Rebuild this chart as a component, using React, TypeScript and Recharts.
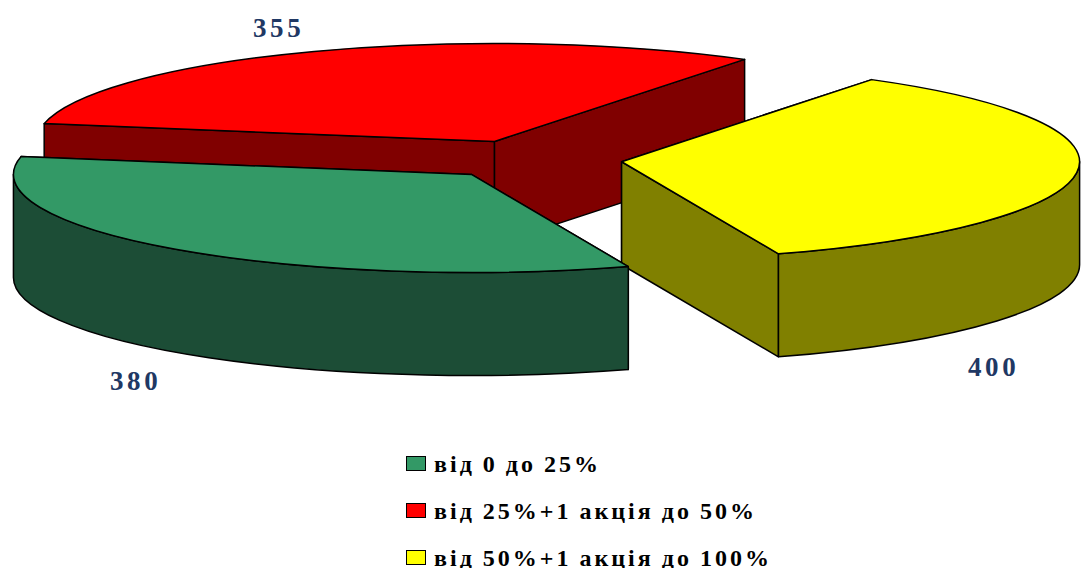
import * as React from "react";
import { Legend, Pie, PieChart } from "recharts";

// slices in paint order: green has to land on top of the red walls
const categories = ["від 25%+1 акція до 50%", "від 50%+1 акція до 100%", "від 0 до 25%"];
const values = [355, 400, 380];
const topColors = ["#ff0000", "#ffff00", "#339966"];
const wallColors = ["#800000", "#808000", "#1c4d36"];
const legendOrder = ["від 0 до 25%", "від 25%+1 акція до 50%", "від 50%+1 акція до 100%"];

const WIDTH = 1082;
const HEIGHT = 568;
const CX = 530.6;
const CY = 159.5;
const RADIUS = 458;
const SQUASH = 0.214; // ellipse ry / rx
const DEPTH = 103;
const EXPLODE = 0.2;
const TEXT_COLOR = "#1f3864";
const FONT = '"Liberation Serif", "Times New Roman", serif';

// where each value label sits, relative to the pie centre
const labelShift = [
  [-252, -123],
  [463, 216],
  [-395, 230],
];

const data = categories.map((name, i) => ({
  name,
  value: values[i],
  fill: topColors[i],
  wall: wallColors[i],
}));

const rad = (deg: number) => (deg * Math.PI) / 180;

function Slice(props: any) {
  const { cx, cy, outerRadius: r, startAngle, endAngle, midAngle, fill, wall } = props;
  // slide the whole slice out along its own middle direction
  const ox = cx + r * EXPLODE * Math.cos(rad(midAngle));
  const oy = cy - r * EXPLODE * SQUASH * Math.sin(rad(midAngle));
  const ry = r * SQUASH;
  const px = (a: number) => ox + r * Math.cos(rad(a));
  const py = (a: number) => oy - ry * Math.sin(rad(a));

  const top = `M${ox},${oy} L${px(startAngle)},${py(startAngle)} A${r},${ry} 0 ${
    startAngle - endAngle > 180 ? 1 : 0
  } 1 ${px(endAngle)},${py(endAngle)} Z`;

  const cut = (a: number) =>
    `M${ox},${oy} L${px(a)},${py(a)} L${px(a)},${py(a) + DEPTH} L${ox},${oy + DEPTH} Z`;

  // outer wall only shows on the front half of the ellipse
  const hi = Math.min(startAngle, 0);
  const lo = Math.max(endAngle, -180);
  const outer =
    hi > lo
      ? `M${px(hi)},${py(hi)} A${r},${ry} 0 0 1 ${px(lo)},${py(lo)} L${px(lo)},${py(lo) + DEPTH} A${r},${ry} 0 0 0 ${px(hi)},${py(hi) + DEPTH} Z`
      : null;

  const line = { stroke: "#000", strokeWidth: 1.5, strokeLinejoin: "round" as const };
  return (
    <g>
      <path d={cut(startAngle)} fill={wall} {...line} />
      <path d={cut(endAngle)} fill={wall} {...line} />
      {outer && <path d={outer} fill={wall} {...line} />}
      <path d={top} fill={fill} {...line} />
    </g>
  );
}

function ValueLabel(props: any) {
  const { cx, cy, index, value } = props;
  return (
    <text
      x={cx + labelShift[index][0]}
      y={cy + labelShift[index][1]}
      textAnchor="middle"
      fill={TEXT_COLOR}
      fontFamily={FONT}
      fontWeight="bold"
      fontSize={27}
      letterSpacing={3.6}
    >
      {value}
    </text>
  );
}

function LegendRows({ payload }: any) {
  const rows = [...(payload ?? [])].sort(
    (a: any, b: any) => legendOrder.indexOf(a.value) - legendOrder.indexOf(b.value)
  );
  return (
    <div style={{ fontFamily: FONT, fontWeight: "bold", fontSize: 24, color: "#000" }}>
      {rows.map((row: any) => (
        <div
          key={row.value}
          style={{ display: "flex", alignItems: "center", height: 47, whiteSpace: "nowrap" }}
        >
          <span
            style={{
              width: 18,
              height: 13,
              marginRight: 8,
              border: "1px solid #000",
              background: row.color,
              display: "inline-block",
            }}
          />
          <span style={{ letterSpacing: 3, wordSpacing: -1, lineHeight: "18px" }}>{row.value}</span>
        </div>
      ))}
    </div>
  );
}

export default function App() {
  return (
    <div style={{ position: "absolute", left: 0, top: 0, width: WIDTH, height: HEIGHT }}>
      <PieChart width={WIDTH} height={HEIGHT} margin={{ top: 0, right: 0, bottom: 0, left: 0 }}>
        <Pie
          data={data}
          dataKey="value"
          nameKey="name"
          cx={CX}
          cy={CY}
          innerRadius={0}
          outerRadius={RADIUS}
          startAngle={169.5}
          endAngle={-190.5}
          paddingAngle={0}
          stroke="none"
          shape={Slice}
          activeShape={Slice}
          inactiveShape={Slice}
          label={ValueLabel}
          labelLine={false}
          isAnimationActive={false}
        />
        <Legend
          content={LegendRows}
          wrapperStyle={{ position: "absolute", left: 406, top: 440, width: 400, bottom: "auto" }}
        />
      </PieChart>
    </div>
  );
}
